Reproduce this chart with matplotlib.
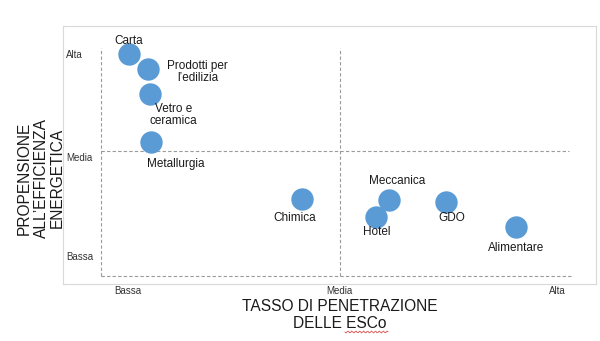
import numpy as np
import matplotlib.pyplot as plt

plt.rcParams['font.family'] = ['Liberation Sans', 'DejaVu Sans']

# sectors: penetration of ESCo (x) vs propensity to energy efficiency (y), 0..10 scale
settori = ['Carta', 'Prodotti per\nl\u2019edilizia', 'Vetro e\nceramica', 'Metallurgia',
           'Chimica', 'Meccanica', 'Hotel', 'GDO', 'Alimentare']
penetrazione = [0.59, 0.98, 1.03, 1.05, 4.20, 6.03, 5.75, 7.22, 8.68]
propensione = [8.88, 8.28, 7.28, 5.36, 3.08, 3.04, 2.36, 2.96, 1.96]
livelli = ['Bassa', 'Media', 'Alta']

# label offsets in points (dx, dy)
offsets = [(0, 9), (36, -2), (17, -15), (18, -16), (-5, -14),
           (6, 14), (1, -11), (4, -11.5), (0, -15)]

fig = plt.figure(figsize=(6, 3.41), dpi=100)
ax = fig.add_axes([63/600, 57/341, 533/600, 258/341])
ax.set_xlim(-0.79, 10.36)
ax.set_ylim(-0.32, 10)
for s in ax.spines.values():
    s.set_color('#d9d9d9')
    s.set_linewidth(0.8)
ax.set_xticks([])
ax.set_yticks([])

grey = '#9a9a9a'
dash = dict(color=grey, lw=0.8, ls=(0, (3, 2)), zorder=1)
ax.plot([0, 0], [0, 9.12], **dash)
ax.plot([5, 5], [0, 9.12], **dash)
ax.plot([0, 9.87], [0, 0], **dash)
ax.plot([0, 9.8], [5, 5], **dash)

ax.scatter(penetrazione, propensione, s=260, color='#5b9bd5', zorder=3, linewidths=0)

for nome, x, y, off in zip(settori, penetrazione, propensione, offsets):
    ax.annotate(nome, (x, y), xytext=off, textcoords='offset points',
                ha='center', va='center', fontsize=8.5, color='#1a1a1a',
                linespacing=1.05, zorder=4)

# level labels along the axes
for lab, xv in zip(livelli, [0.57, 5.0, 9.55]):
    ax.text(xv, -0.62, lab, ha='center', va='center', fontsize=7,
            color='#333333', clip_on=False)
for lab, yv in zip(livelli, [0.76, 4.72, 8.84]):
    ax.text(-0.72, yv, lab, ha='left', va='center', fontsize=7, color='#333333')

fig.text(340/600, 1 - 315/341, 'TASSO DI PENETRAZIONE\nDELLE ESCo', ha='center',
         va='center', fontsize=11.2, color='#1a1a1a', linespacing=1.12)
fig.text(41/600, 1 - 178/341, 'PROPENSIONE\nALL\u2019EFFICIENZA\nENERGETICA', ha='center',
         va='center', fontsize=11.2, color='#1a1a1a', rotation=90, linespacing=1.12)

# spell-check squiggle under "ESCo"
xs = np.linspace(345, 388, 40)
ys = 332 + 1.0*np.sin((xs - 345)*1.6)
fig.add_artist(plt.Line2D(xs/600, 1 - ys/341, color='#e05050', lw=0.6))

fig.savefig('out.png', dpi=100)
